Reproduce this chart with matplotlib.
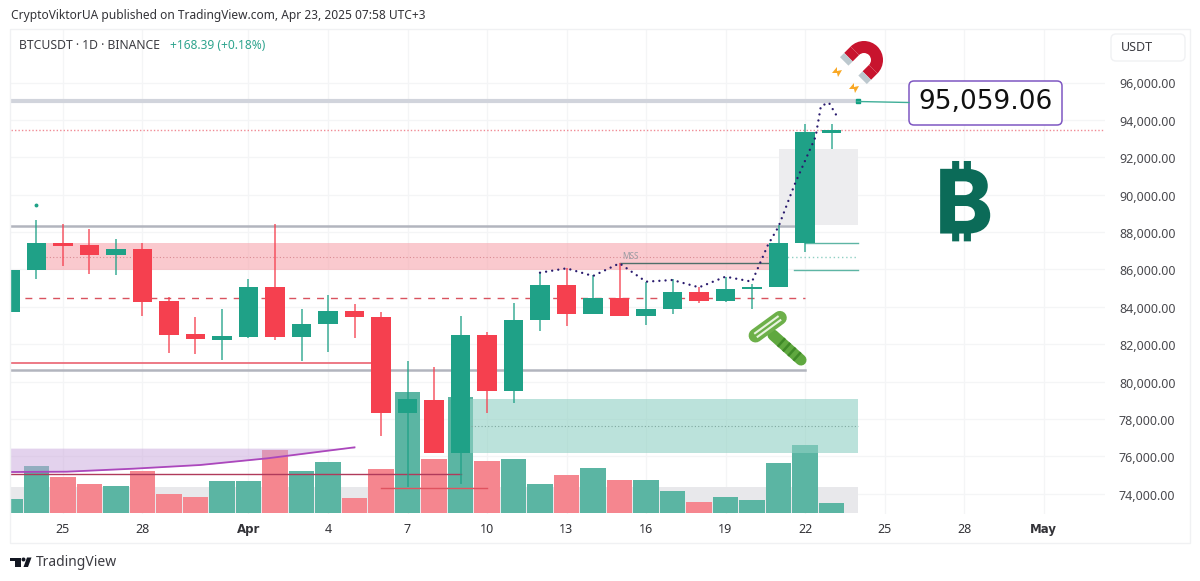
import numpy as np
import matplotlib
matplotlib.use('Agg')
import matplotlib.pyplot as plt
import matplotlib.patheffects as pe
from matplotlib.patches import Rectangle, FancyBboxPatch, Polygon, Wedge, Circle

plt.rcParams['font.family'] = ['Noto Sans', 'DejaVu Sans']

# daily candles, day 0 = Mar 25
days = list(range(-2, 30))
opens = [83797, 86026, 87452, 87345, 86828, 87149, 84368, 82585, 82300, 82460, 85116, 82424, 83120, 83851, 83494,
         78360, 79091, 76239, 82532, 79537, 83334, 85206, 83690, 84510, 83583, 83940, 84867, 84386, 84992, 85099, 87452, 93352]
closes = [86026, 87452, 87327, 86828, 87149, 84332, 82567, 82318, 82496, 85116, 82424, 83138, 83851, 83494, 78378,
          79109, 76239, 82532, 79537, 83352, 85206, 83690, 84510, 83583, 83958, 84867, 84386, 85010, 85117, 87452, 93388, 93513]
highs = [86026, 88700, 88468, 88200, 87701, 87452, 84564, 83494, 83922, 85526, 88468, 83958, 84671, 84207, 83762,
         81177, 80820, 83566, 82710, 84243, 85883, 86115, 85758, 86382, 85402, 85527, 85099, 85669, 85277, 88432, 93816, 93816]
lows = [83797, 85526, 86239, 85812, 85758, 83565, 81604, 81551, 81230, 82407, 82300, 81177, 81658, 82371, 77148,
        74438, 76239, 74581, 78396, 78931, 82781, 83013, 83655, 83548, 83066, 83690, 84279, 84332, 83922, 85099, 87006, 92515]
volumes = [14, 47, 36, 29, 27.5, 42.5, 19, 16, 32, 32, 63, 42.5, 51, 15, 44,
           121, 54, 116, 52, 54, 29, 38, 45, 33, 33, 22, 11, 16, 13, 50, 68, 10]

price_ticks = [96000, 94000, 92000, 90000, 88000, 86000, 84000, 82000, 80000, 78000, 76000, 74000]
date_ticks = [0, 3, 7, 10, 13, 16, 19, 22, 25, 28, 31, 34, 37]
date_labels = ['25', '28', 'Apr', '4', '7', '10', '13', '16', '19', '22', '25', '28', 'May']

# drawn path above the candles
path_days = [18, 19, 20, 21, 22, 23, 24, 25, 26, 26.6, 27, 27.6, 28.4, 28.6, 28.9, 29.2]
path_prices = [85883, 86115, 85705, 86382, 85402, 85491, 85099, 85669, 85402, 87363, 88343, 90571, 93156, 94796, 94975, 94262]

# curve under the purple zone
curve_days = [-2, 0.14, 2.65, 5.17, 7.7, 10.2, 11]
curve_prices = [75222, 75240, 75400, 75597, 75953, 76399, 76542]

GREEN = '#1FA187'
RED = '#F5404F'
W, H = 1200, 581


def px_box(l, t, r, b):
    return [l / W, 1 - b / H, (r - l) / W, (b - t) / H]


fig = plt.figure(figsize=(12, 5.81), dpi=100, facecolor='white')

# volume sits below the price axes
ax_vol = fig.add_axes(px_box(11, 30, 1105, 514))
ax = fig.add_axes(px_box(11, 30, 1105, 514))
ax.patch.set_alpha(0)

xlim = (-1.962, 39.32)
ax.set_xlim(xlim)
ax_vol.set_xlim(xlim)
ax.set_ylim(72977, 98861)
ax_vol.set_ylim(-1, 483)

vol_colors = ['#5BB5A3' if c >= o else '#F5868F' for o, c in zip(opens, closes)]
ax_vol.bar(days, volumes, width=0.96, color=vol_colors, zorder=3)
for t in date_ticks:
    ax_vol.axvline(t, color='#F4F5F6', lw=0.9, zorder=1)
for p in price_ticks:
    ax_vol.plot(xlim, [(p - 72977) / 53.48] * 2, color='#F4F5F6', lw=0.9, zorder=1)
ax_vol.set_xticks([])
ax_vol.set_yticks([])
for s in ax_vol.spines.values():
    s.set_visible(False)
for s in ax.spines.values():
    s.set_visible(False)

# zones
ax.fill_between([-1, 27], 86026, 87452, color='#F7A6AE', alpha=0.6, lw=0, zorder=1)
ax.plot([-1, 27], [86739, 86739], color='#D98A92', lw=0.8, ls=(0, (1, 2)), zorder=1.2)
ax.fill_between([15, 30], 76239, 79109, color='#8FD0C3', alpha=0.6, lw=0, zorder=1)
ax.plot([15, 30], [77674, 77674], color='#7FA8A0', lw=0.8, ls=(0, (1, 2)), zorder=1.2)
ax.fill_between([27, 30], 88432, 92515, color='#EDEDEF', lw=0, zorder=0.8)
ax_vol.fill_between([-1.962, 30], 0, 26, color='#E8E8EB', lw=0, zorder=2)
ax.fill_between(curve_days, curve_prices, 76500, color='#C9A6DC', alpha=0.5, lw=0, zorder=1)
ax.plot(curve_days, curve_prices, color='#AB47BC', lw=1.3, zorder=2)

# levels
ax.plot([-1.962, 28], [88396, 88396], color='#B2B5BE', lw=1.8, zorder=2)
ax.plot([-1.962, 28], [80660, 80660], color='#B2B5BE', lw=1.8, zorder=2)
ax.plot([-1.962, 12], [81070, 81070], color='#EC6E7C', lw=1.3, zorder=2)
ax.plot([-1.962, 28], [84520, 84520], color='#D9535F', lw=1, ls=(0, (5, 5)), zorder=2)
ax.plot([-1.962, 15], [75116, 75116], color='#B03A5B', lw=1, zorder=2)
ax.plot([12, 16], [74394, 74394], color='#E0525F', lw=1, zorder=2)
ax.plot(xlim, [93513, 93513], color='#F08A94', lw=1, ls=(0, (1, 1.5)), zorder=2)
ax.plot([-1.962, 30], [95060, 95060], color='#D1D4DC', lw=3, zorder=2)
ax.plot([28, 30], [87452, 87452], color='#5DB5A4', lw=1, zorder=2)
ax.plot([27.6, 30], [86026, 86026], color='#5DB5A4', lw=1, zorder=2)
ax.plot([27, 30], [86739, 86739], color='#8FD0C3', lw=1, ls=(0, (1, 2)), zorder=2)
ax.plot([21, 27], [86418, 86418], color='#4F6F6A', lw=1, zorder=2)
ax.text(21.1, 86500, 'MSS', fontsize=6, color='#9A9CA3', va='bottom', zorder=3)

# candles
for d, o, c, h, l in zip(days, opens, closes, highs, lows):
    col = GREEN if c >= o else RED
    ax.vlines(d, l, h, color=col, lw=1.2, alpha=0.8, zorder=4)
    ax.bar(d, max(abs(c - o), 60), bottom=min(o, c), width=0.75, color=col, zorder=5)

ax.plot(path_days, path_prices, color='#2A1B6E', lw=1.7, ls=(0, (0.01, 2.6)), dash_capstyle='round', zorder=6)
ax.plot(-1, 89480, marker='o', ms=1.8, color=GREEN, zorder=6)
ax.plot(30, 95060, marker='s', ms=3.5, color='#0E9F80', zorder=6)

ax.yaxis.tick_right()
ax.set_yticks(price_ticks)
ax.set_yticklabels([f'{p:,.2f}' for p in price_ticks], fontsize=9, color='#4A4A4F')
ax.set_xticks(date_ticks)
ax.set_xticklabels(date_labels, fontsize=9, color='#333338')
for lab, txt in zip(ax.get_xticklabels(), date_labels):
    if txt in ('Apr', 'May'):
        lab.set_family('DejaVu Sans')
        lab.set_fontweight('bold')
        lab.set_fontsize(8.5)
ax.tick_params(length=0)
ax.tick_params(axis='y', pad=10)
ax.tick_params(axis='x', pad=6.5)

# overlay in image pixels for the frame, texts and icons
ov = fig.add_axes([0, 0, 1, 1], zorder=10)
ov.set_xlim(0, W)
ov.set_ylim(H, 0)
ov.axis('off')
ov.add_patch(Rectangle((10, 29), 1180, 514, fill=False, ec='#F0F1F3', lw=1))
ov.add_patch(FancyBboxPatch((1113, 36), 70, 23, boxstyle='round,pad=2,rounding_size=5', fc='white', ec='#F0F1F3', lw=1))
ov.text(1121, 47.5, 'USDT', fontsize=9, color='#3C3C42', va='center')

ov.text(11, 16, 'CryptoViktorUA published on TradingView.com, Apr 23, 2025 07:58 UTC+3', fontsize=8.6, color='#333338', va='center')
ov.text(19, 45.5, 'BTCUSDT · 1D · BINANCE', fontsize=8.8, color='#3C3C42', va='center')
ov.text(170, 45.5, '+168.39 (+0.18%)', fontsize=8.6, color='#2FA48E', va='center')

# callout
ov.plot([857, 909], [101.5, 102.5], color='#3FAE98', lw=1)
ov.add_patch(FancyBboxPatch((911, 83), 149, 40, boxstyle='round,pad=2,rounding_size=5', fc='white', ec='#7E57C2', lw=1.1))
ov.text(985.5, 102.5, '95,059.06', fontsize=19, family='DejaVu Sans', color='#111111', ha='center', va='center')

# bitcoin sign
ov.text(964, 210, '\u20bf', fontsize=62, family=['Inter', 'Roboto', 'Open Sans', 'Lato', 'Noto Sans', 'Liberation Sans', 'DejaVu Sans'],
        fontweight='bold', color='#0B6B58', ha='center', va='center',
        path_effects=[pe.withStroke(linewidth=1.5, foreground='#0B6B58', joinstyle='miter')])

# magnet
cx, cy = 864, 60
u = np.array([-0.707, 0.707])
n = np.array([0.707, 0.707])
ov.add_patch(Wedge((cx, cy), 19, 225, 45, width=12, fc='#C8142E', lw=0))
c0 = np.array([cx, cy])
for sign in (-1, 1):
    a = c0 + sign * n * 7
    b = c0 + sign * n * 19
    ov.add_patch(Polygon([a, b, b + u * 9, a + u * 9], fc='#C8142E', lw=0))
    ov.add_patch(Polygon([a + u * 9, b + u * 9, b + u * 15, a + u * 15], fc='#BCC8CE', lw=0))
for sx, sy in [(837, 72), (854, 88)]:
    ov.add_patch(Polygon([(sx - 5, sy + 1), (sx, sy - 5), (sx, sy - 1), (sx + 5, sy - 2), (sx + 1, sy + 5), (sx, sy + 1)], fc='#F9A825', lw=0))

# razor
hc = np.array([767.7, 326.7])
d = np.array([0.81, -0.59])
p = np.array([0.59, 0.81])
h0, h1 = np.array([773, 335]), np.array([801, 360])
ov.plot(*np.array([h0, h1]).T, color='#5FA83F', lw=8, solid_capstyle='round')
hd = (h1 - h0) / np.linalg.norm(h1 - h0)
for t in (10, 17, 24, 31):
    ov.plot(*np.array([h0 + hd * t, h0 + hd * (t + 2.5)]).T, color='#3F8A28', lw=8, solid_capstyle='butt')
ov.plot(*np.array([hc - d * 15, hc + d * 15]).T, color='#6DB04A', lw=10, solid_capstyle='round')
for off in (-2.2, 2.2):
    ov.plot(*np.array([hc - d * 14 + p * off, hc + d * 14 + p * off]).T, color='#E8F3DF', lw=1.5)

# TradingView logo
ov.add_patch(Polygon([(10, 557.5), (20.5, 557.5), (20.5, 567), (14.5, 567), (14.5, 561), (10, 561)], fc='#131722', lw=0))
ov.add_patch(Circle((23.5, 559.5), 2, fc='#131722', lw=0))
ov.add_patch(Polygon([(27, 557.5), (31.5, 557.5), (28, 567), (23.5, 567)], fc='#131722', lw=0))
ov.text(36, 562.5, 'TradingView', fontsize=10, color='#3C3C42', va='center')

fig.savefig('out.png', dpi=100)
